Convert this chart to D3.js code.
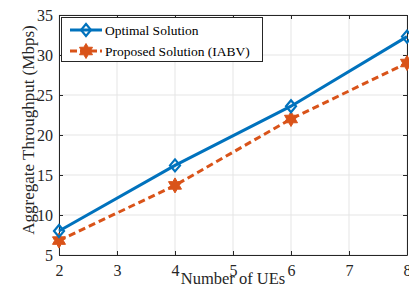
<!DOCTYPE html>
<html>
<head>
<meta charset="utf-8">
<script src="https://cdn.jsdelivr.net/npm/d3@7"></script>
<style>
  html, body { margin: 0; padding: 0; background: #fff; }
  svg { display: block; }
  svg text { font-family: 'Liberation Serif', serif; }
</style>
</head>
<body>
<svg id="chart" width="409" height="288"></svg>
<script>
const ues = [2, 4, 6, 8];
const optimal = [8.0, 16.2, 23.6, 32.3];
const proposed = [6.8, 13.7, 22.0, 29.0];
const xTicks = [2, 3, 4, 5, 6, 7, 8];
const yTicks = [5, 10, 15, 20, 25, 30, 35];
const seriesNames = ['Optimal Solution', 'Proposed Solution (IABV)'];

const BLUE = '#0072BD';
const ORANGE = '#D95319';

const svg = d3.select('#chart');
const m = { left: 59, right: 407, top: 15, bottom: 255 };

const x = d3.scaleLinear().domain([2, 8]).range([m.left, m.right]);
const y = d3.scaleLinear().domain([5, 35]).range([m.bottom, m.top]);

// grid
const grid = svg.append('g');
grid.selectAll('line.gx').data(xTicks).join('line')
  .attr('x1', d => x(d)).attr('x2', d => x(d))
  .attr('y1', m.top).attr('y2', m.bottom)
  .attr('stroke', '#e5e5e5').attr('stroke-width', 1);
grid.selectAll('line.gy').data(yTicks).join('line')
  .attr('y1', d => y(d)).attr('y2', d => y(d))
  .attr('x1', m.left).attr('x2', m.right)
  .attr('stroke', '#e5e5e5').attr('stroke-width', 1);

// axes (MATLAB style, ticks inward)
const fmt = d3.format('d');
const xAxis = d3.axisBottom(x).tickValues(xTicks).tickFormat(fmt).tickSizeInner(-4).tickSizeOuter(0).tickPadding(10);
const yAxis = d3.axisLeft(y).tickValues(yTicks).tickFormat(fmt).tickSizeInner(-4).tickSizeOuter(0).tickPadding(6);
const xTop = d3.axisTop(x).tickValues(xTicks).tickSizeInner(-4).tickSizeOuter(0).tickFormat('');
const yRight = d3.axisRight(y).tickValues(yTicks).tickSizeInner(-4).tickSizeOuter(0).tickFormat('');

function styleAxis(g) {
  g.attr('font-family', 'Liberation Serif, serif').attr('font-size', 16);
  g.select('.domain').attr('stroke', '#262626').attr('stroke-width', 1);
  g.selectAll('.tick line').attr('stroke', '#262626');
  g.selectAll('.tick text').attr('fill', '#262626');
}
svg.append('g').attr('transform', `translate(0,${m.bottom})`).call(xAxis).call(styleAxis);
svg.append('g').attr('transform', `translate(${m.left},0)`).call(yAxis).call(styleAxis);
svg.append('g').attr('transform', `translate(0,${m.top})`).call(xTop).call(styleAxis);
svg.append('g').attr('transform', `translate(${m.right},0)`).call(yRight).call(styleAxis);

// labels
svg.append('text')
  .attr('x', (m.left + m.right) / 2).attr('y', 284)
  .attr('text-anchor', 'middle').attr('font-size', 16.5).attr('fill', '#262626')
  .text('Number of UEs');
svg.append('text')
  .attr('transform', `translate(34,${(m.top + m.bottom) / 2 - 5}) rotate(-90)`)
  .attr('text-anchor', 'middle').attr('font-size', 17).attr('fill', '#262626')
  .text('Aggregate Throughput (Mbps)');

const line = d3.line().x(d => x(d[0])).y(d => y(d[1]));
const optPts = ues.map((u, i) => [u, optimal[i]]);
const propPts = ues.map((u, i) => [u, proposed[i]]);

const diamond = 'M0,-6 L5,0 L0,6 L-5,0 Z';
function starPath(r) {
  const pts = [];
  const ri = r * 0.58;
  for (let k = 0; k < 12; k++) {
    const a = Math.PI / 2 + k * Math.PI / 6;
    const rr = k % 2 === 0 ? r : ri;
    pts.push([rr * Math.cos(a), -rr * Math.sin(a)]);
  }
  return 'M' + pts.map(p => p[0].toFixed(2) + ',' + p[1].toFixed(2)).join('L') + 'Z';
}
const star = starPath(7.5);

const plot = svg.append('g');
plot.append('path').datum(propPts).attr('d', line)
  .attr('fill', 'none').attr('stroke', ORANGE).attr('stroke-width', 3)
  .attr('stroke-dasharray', '7,4');
plot.append('path').datum(optPts).attr('d', line)
  .attr('fill', 'none').attr('stroke', BLUE).attr('stroke-width', 3);

plot.selectAll('path.pm').data(propPts).join('path').attr('class', 'pm')
  .attr('d', star).attr('transform', d => `translate(${x(d[0])},${y(d[1])})`)
  .attr('fill', ORANGE).attr('stroke', ORANGE).attr('stroke-width', 1);
plot.selectAll('path.om').data(optPts).join('path').attr('class', 'om')
  .attr('d', diamond).attr('transform', d => `translate(${x(d[0])},${y(d[1])})`)
  .attr('fill', 'none').attr('stroke', BLUE).attr('stroke-width', 2.2);

// legend
const lg = svg.append('g');
lg.append('rect').attr('x', 61.5).attr('y', 17.5).attr('width', 201).attr('height', 44)
  .attr('fill', '#fff').attr('stroke', '#262626').attr('stroke-width', 1);
const legendItems = [
  { name: seriesNames[0], color: BLUE, dash: null, marker: diamond, fill: 'none', sw: 2.2 },
  { name: seriesNames[1], color: ORANGE, dash: '7,3', marker: star, fill: ORANGE, sw: 1 },
];
legendItems.forEach((it, i) => {
  const cy = 30 + i * 21;
  lg.append('line').attr('x1', 70).attr('x2', 102).attr('y1', cy).attr('y2', cy)
    .attr('stroke', it.color).attr('stroke-width', 3)
    .attr('stroke-dasharray', it.dash);
  lg.append('path').attr('d', it.marker).attr('transform', `translate(86,${cy})`)
    .attr('fill', it.fill).attr('stroke', it.color).attr('stroke-width', it.sw);
  lg.append('text').attr('x', 105).attr('y', cy + 4.5)
    .attr('font-size', 13.5).attr('fill', '#000').text(it.name);
});
</script>
</body>
</html>
